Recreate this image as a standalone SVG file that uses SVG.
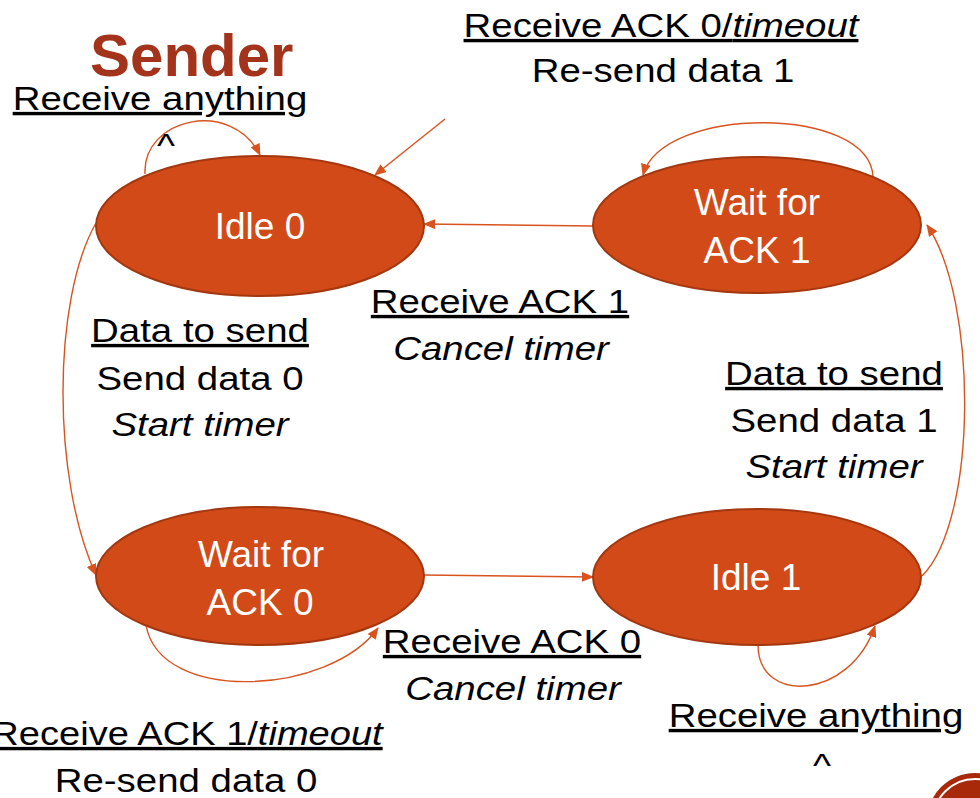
<svg xmlns="http://www.w3.org/2000/svg" width="980" height="798" viewBox="0 0 980 798">
<style>
.st{fill:#D24A18;stroke:#A3370F;stroke-width:2}
.sn{font-family:"Liberation Sans",Arial,sans-serif;font-size:37px;fill:#ffffff;text-anchor:middle}
.lb{font-family:"Liberation Sans",Arial,sans-serif;font-size:34px;fill:#000000;text-anchor:middle}
.u{text-decoration:underline}
.i{font-style:italic}
.c{fill:none;stroke:#D9531E;stroke-width:1.4}
</style>
<defs>
<marker id="ah" viewBox="0 0 12 10" refX="11" refY="5" markerWidth="12" markerHeight="10" markerUnits="userSpaceOnUse" orient="auto">
<path d="M0,0 L12,5 L0,10 Z" fill="#D9531E"/>
</marker>
</defs>
<rect width="980" height="798" fill="#ffffff"/>
<text x="90" y="76" style="font-family:'Liberation Sans',Arial,sans-serif;font-size:60px;font-weight:bold;fill:#A3331A">Sender</text>

<g id="connectors">
<path class="c" marker-end="url(#ah)" d="M145,174 C142,118 232,98 260,155"/>
<path class="c" marker-end="url(#ah)" d="M445,119 L375,175"/>
<path class="c" marker-end="url(#ah)" d="M873,177 C870,105 662,105 643,175"/>
<path class="c" marker-end="url(#ah)" d="M593,226 L424,224"/>
<path class="c" marker-end="url(#ah)" d="M96,223 C52,300 52,480 96,575"/>
<path class="c" marker-end="url(#ah)" d="M423,575 L593,577"/>
<path class="c" marker-end="url(#ah)" d="M146,625 C160,705 330,695 378,628"/>
<path class="c" marker-end="url(#ah)" d="M758,645 C758,705 850,700 875,626"/>
<path class="c" marker-end="url(#ah)" d="M922,576 C978,520 978,300 927,225"/>
</g>

<g id="idle0">
<ellipse class="st" cx="260" cy="226" rx="164" ry="70"/>
<text class="sn" x="260" y="239">Idle 0</text>
</g>
<g id="waitack1">
<ellipse class="st" cx="757" cy="225" rx="164" ry="68"/>
<text class="sn" x="757" y="215">Wait for</text>
<text class="sn" x="757" y="263">ACK 1</text>
</g>
<g id="waitack0">
<ellipse class="st" cx="260" cy="576" rx="164" ry="69"/>
<text class="sn" x="261" y="567">Wait for</text>
<text class="sn" x="260" y="615">ACK 0</text>
</g>
<g id="idle1">
<ellipse class="st" cx="757" cy="577" rx="164" ry="68"/>
<text class="sn" x="756" y="590">Idle 1</text>
</g>

<g id="labels">
<text class="lb u" transform="translate(160,0) scale(1.13,1)" y="110">Receive anything</text>
<text class="lb" transform="translate(166,0) scale(1.13,1)" y="157">^</text>

<text class="lb u" transform="translate(661,0) scale(1.13,1)" y="37">Receive ACK 0/<tspan class="i">timeout</tspan></text>
<text class="lb" transform="translate(663,0) scale(1.13,1)" y="82">Re-send data 1</text>

<text class="lb u" transform="translate(500,0) scale(1.13,1)" y="313">Receive ACK 1</text>
<text class="lb i" transform="translate(501,0) scale(1.13,1)" y="360">Cancel timer</text>

<text class="lb u" transform="translate(200,0) scale(1.13,1)" y="342">Data to send</text>
<text class="lb" transform="translate(200,0) scale(1.13,1)" y="390">Send data 0</text>
<text class="lb i" transform="translate(200,0) scale(1.13,1)" y="436">Start timer</text>

<text class="lb u" transform="translate(834,0) scale(1.13,1)" y="385">Data to send</text>
<text class="lb" transform="translate(834,0) scale(1.13,1)" y="432">Send data 1</text>
<text class="lb i" transform="translate(834,0) scale(1.13,1)" y="478">Start timer</text>

<text class="lb u" transform="translate(512,0) scale(1.13,1)" y="653">Receive ACK 0</text>
<text class="lb i" transform="translate(513,0) scale(1.13,1)" y="700">Cancel timer</text>

<text class="lb u" transform="translate(187,0) scale(1.12,1)" y="745">Receive ACK 1/<tspan class="i">timeout</tspan></text>
<text class="lb" transform="translate(186,0) scale(1.13,1)" y="792">Re-send data 0</text>

<text class="lb u" transform="translate(816,0) scale(1.13,1)" y="727">Receive anything</text>
<text class="lb" transform="translate(822,0) scale(1.13,1)" y="777">^</text>
</g>

<g id="corner">
<circle cx="975" cy="821" r="48" fill="#A8290A"/>
<circle cx="975" cy="821" r="42" fill="none" stroke="#ffffff" stroke-width="2"/>
</g>
</svg>
